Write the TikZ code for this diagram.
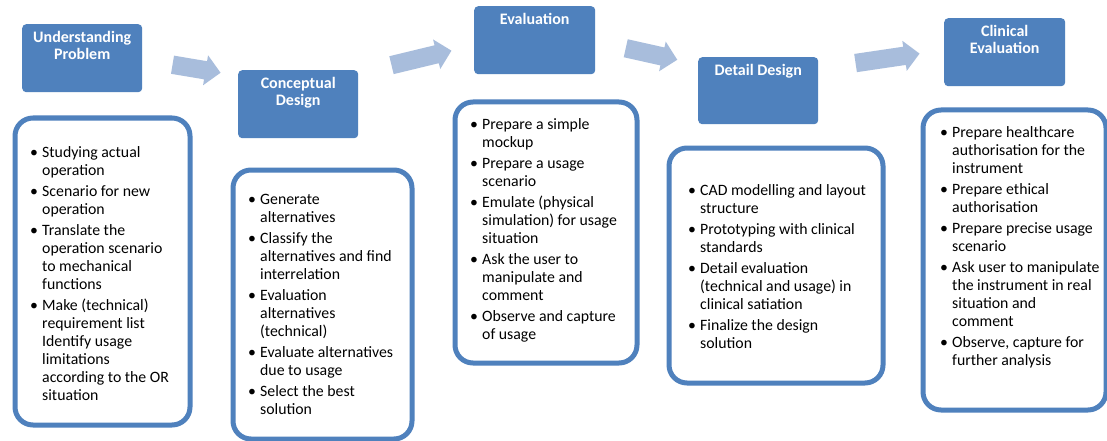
\documentclass[tikz,border=0pt]{standalone}
\usepackage{fontspec}
\setmainfont{Carlito}
\usetikzlibrary{shapes.arrows}
\definecolor{hdrblue}{HTML}{4F81BD}
\definecolor{boxblue}{HTML}{4F81BD}
\definecolor{arrblue}{HTML}{A8BDDC}
\newenvironment{blist}{\begin{list}{\makebox[12pt][l]{\textbullet}}{\setlength\leftmargin{12pt}\setlength\labelwidth{12pt}\setlength\labelsep{0pt}\setlength\itemsep{3pt}\setlength\parsep{0pt}\setlength\topsep{0pt}\setlength\partopsep{0pt}}}{\end{list}}
\begin{document}
\begin{tikzpicture}[x=1pt,y=-1pt,
 hdr/.style={draw=none, fill=hdrblue, rounded corners=4pt, inner sep=0pt, anchor=north west},
 hdrtext/.style={text=white, font=\fontsize{16}{17.5}\selectfont\bfseries, align=center, inner sep=0pt, anchor=north},
 tbox/.style={draw=boxblue, line width=5pt, rounded corners=18pt, fill=white, inner sep=0pt, anchor=north west},
 btext/.style={inner sep=0pt, anchor=west, font=\fontsize{15.8}{18}\selectfont},
 bigarrow/.style={single arrow, fill=arrblue, draw=none, inner xsep=0pt, inner ysep=9pt, single arrow head extend=6pt, minimum width=0pt}]
\useasboundingbox (0,0) rectangle (1107,441);
\fill[white] (0,0) rectangle (1107,441);

% headers
\node[hdr, minimum width=120pt, minimum height=68pt] (h1) at (22,24) {};
\node[hdrtext] (h1t) at ([yshift=-7pt]h1.north) {Understanding\\Problem};
\node[hdr, minimum width=120pt, minimum height=68pt] (h2) at (238,70) {};
\node[hdrtext] (h2t) at ([yshift=-7pt]h2.north) {Conceptual\\Design};
\node[hdr, minimum width=121pt, minimum height=68pt] (h3) at (474,6) {};
\node[hdrtext] (h3t) at ([yshift=-7pt]h3.north) {Evaluation};
\node[hdr, minimum width=120pt, minimum height=67pt] (h4) at (698,57) {};
\node[hdrtext] (h4t) at ([yshift=-7pt]h4.north) {Detail Design};
\node[hdr, minimum width=121pt, minimum height=68pt] (h5) at (944,18) {};
\node[hdrtext] (h5t) at ([yshift=-7pt]h5.north) {Clinical\\Evaluation};

% arrows
\node[bigarrow, minimum height=48.7pt, rotate=-9.5] (a1) at (192,68) {};
\node[bigarrow, minimum height=61.7pt, rotate=13.6] (a2) at (417,59) {};
\node[bigarrow, minimum height=52.8pt, rotate=-12.6] (a3) at (647,53) {};
\node[bigarrow, minimum height=64.7pt, rotate=8.4] (a4) at (883,59) {};

% text boxes
\node[tbox, minimum width=175pt, minimum height=307pt] (b1) at (12.5,115.5) {};
\node[tbox, minimum width=179pt, minimum height=269pt] (b2) at (230.5,167.5) {};
\node[tbox, minimum width=182pt, minimum height=261pt] (b3) at (452.5,99.5) {};
\node[tbox, minimum width=214pt, minimum height=235pt] (b4) at (666.5,145.5) {};
\node[tbox, minimum width=183pt, minimum height=300pt] (b5) at (920.5,107.5) {};

\node[btext] (t1) at (30,273.5) {\begin{minipage}{200pt}\begin{blist}
\item Studying actual\\operation
\item Scenario for new\\operation
\item Translate the\\operation scenario\\to mechanical\\functions
\item Make (technical)\\requirement list\\Identify usage\\limitations\\according to the OR\\situation
\end{blist}\end{minipage}};

\node[btext] (t2) at (248,304.5) {\begin{minipage}{200pt}\begin{blist}
\item Generate\\alternatives
\item Classify the\\alternatives and find\\interrelation
\item Evaluation\\alternatives\\(technical)
\item Evaluate alternatives\\due to usage
\item Select the best\\solution
\end{blist}\end{minipage}};

\node[btext] (t3) at (470,230) {\begin{minipage}{200pt}\begin{blist}
\item Prepare a simple\\mockup
\item Prepare a usage\\scenario
\item Emulate (physical\\simulation) for usage\\situation
\item Ask the user to\\manipulate and\\comment
\item Observe and capture\\of usage
\end{blist}\end{minipage}};

\node[btext] (t4) at (688,267) {\begin{minipage}{200pt}\begin{blist}
\item CAD modelling and layout\\structure
\item Prototyping with clinical\\standards
\item Detail evaluation\\(technical and usage) in\\clinical satiation
\item Finalize the design\\solution
\end{blist}\end{minipage}};

\node[btext] (t5) at (940,247) {\begin{minipage}{200pt}\begin{blist}
\item Prepare healthcare\\authorisation for the\\instrument
\item Prepare ethical\\authorisation
\item Prepare precise usage\\scenario
\item Ask user to manipulate\\the instrument in real\\situation and\\comment
\item Observe, capture for\\further analysis
\end{blist}\end{minipage}};
\end{tikzpicture}
\end{document}
